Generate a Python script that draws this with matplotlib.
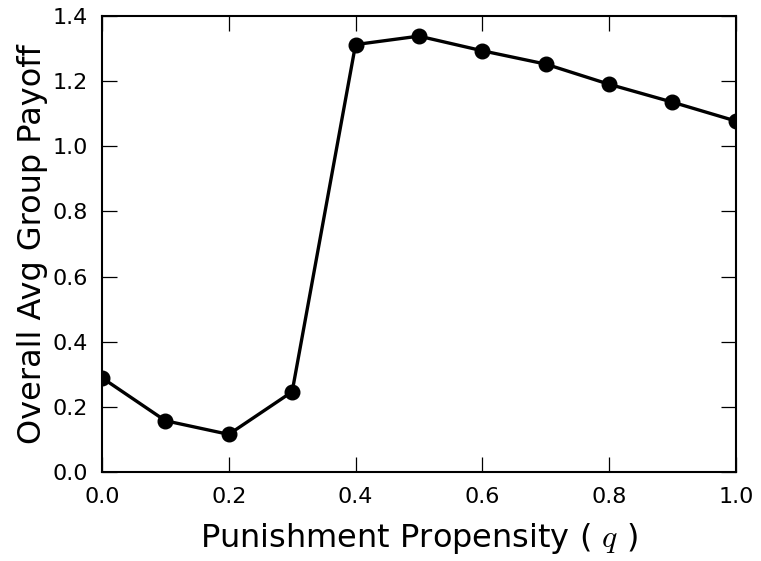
import numpy as np
import matplotlib.pyplot as plt

plt.rcParams['mathtext.fontset'] = 'cm'

# propensity levels and mean group payoff
q = [0.0, 0.1, 0.2, 0.3, 0.4, 0.5, 0.6, 0.7, 0.8, 0.9, 1.0]
payoff = [0.289, 0.157, 0.115, 0.246, 1.313, 1.339, 1.294, 1.253, 1.191, 1.136, 1.078]

fig = plt.figure(figsize=(7.61, 5.61), dpi=100)
ax = fig.add_axes([0.134, 0.159, 0.833, 0.812])

ax.plot(q, payoff, color='black', linewidth=2.4, marker='o', markersize=10.5)

ax.set_xlim(0, 1.0)
ax.set_ylim(0, 1.4)
ax.set_xticks(np.arange(0, 1.01, 0.2))
ax.set_yticks(np.arange(0, 1.41, 0.2))
ax.set_xticklabels(['%.1f' % t for t in np.arange(0, 1.01, 0.2)])
ax.set_yticklabels(['%.1f' % t for t in np.arange(0, 1.41, 0.2)])

ax.tick_params(direction='in', length=11, width=0.9, top=True, right=True,
               labelsize=16)
ax.tick_params(axis='x', pad=11)
ax.tick_params(axis='y', pad=10)
for s in ax.spines.values():
    s.set_linewidth(1.5)

ax.set_xlabel('Punishment Propensity ( $q$ )', fontsize=23, labelpad=10)
ax.set_ylabel('Overall Avg Group Payoff', fontsize=23, labelpad=3)

fig.savefig('out.png', dpi=100)
